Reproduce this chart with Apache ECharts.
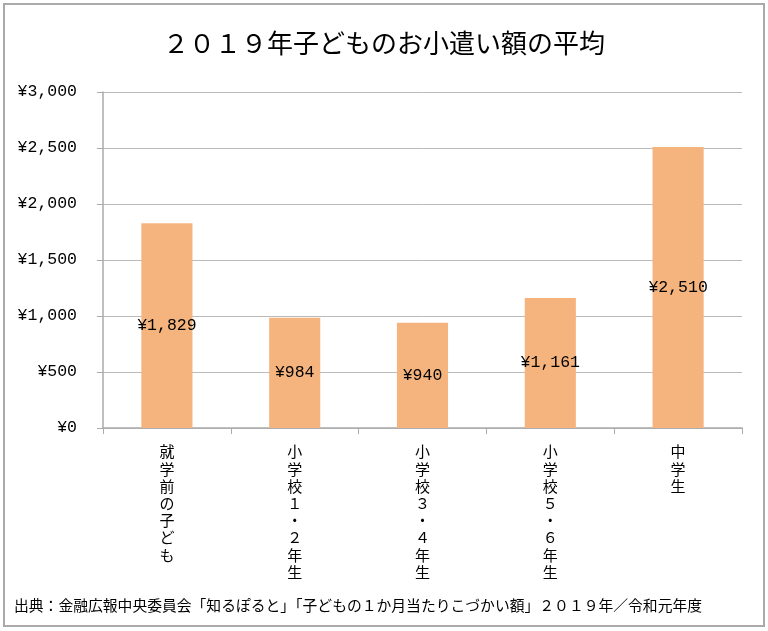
<!DOCTYPE html>
<html><head><meta charset="utf-8">
<script src="https://cdn.jsdelivr.net/npm/echarts@6/dist/echarts.min.js"></script>
<style>html,body{margin:0;padding:0;background:#fff}#c{width:768px;height:631px}</style>
</head><body><div id="c"></div>
<script>
const titleText = '２０１９年子どものお小遣い額の平均';
const categories = ['就学前の子ども', '小学校１・２年生', '小学校３・４年生', '小学校５・６年生', '中学生'];
const values = [1829, 984, 940, 1161, 2510];
const yTicks = [0, 500, 1000, 1500, 2000, 2500, 3000];
const sourceText = '出典：金融広報中央委員会「知るぽると」「子どもの１か月当たりこづかい額」２０１９年／令和元年度';

const FONT = '"Noto Sans CJK JP", sans-serif';
const MONO = '"Liberation Mono", "DejaVu Sans Mono", monospace';
const yen = v => '¥' + v.toLocaleString('en-US');
const chart = echarts.init(document.getElementById('c'));
chart.setOption({
  backgroundColor: '#fff',
  animation: false,
  title: {
    text: titleText, left: 'center', top: 25,
    textStyle: { fontFamily: FONT, fontSize: 26, fontWeight: 'normal', color: '#000' }
  },
  graphic: [
    { type: 'rect', shape: { x: 4, y: 4, width: 760, height: 622 },
      style: { fill: 'none', stroke: '#aaa', lineWidth: 2 } },
    { type: 'text', left: 14, top: 598,
      style: { text: sourceText, fontFamily: FONT, fontSize: 14.8, fill: '#000' } }
  ],
  grid: { left: 103, right: 26, top: 92, bottom: 203, containLabel: false },
  xAxis: {
    type: 'category', data: categories,
    axisLine: { lineStyle: { color: '#aaa', width: 1.5 } },
    axisTick: { show: true, length: 6, lineStyle: { color: '#aaa' } },
    axisLabel: {
      margin: 15, fontFamily: FONT, fontSize: 15, color: '#000', lineHeight: 17.2,
      verticalAlign: 'top',
      formatter: s => s.split('').join('\n')
    }
  },
  yAxis: {
    type: 'value', min: 0, max: 3000, interval: 500,
    axisLine: { show: true, lineStyle: { color: '#aaa', width: 1.5 } },
    axisTick: { show: true, length: 6, lineStyle: { color: '#aaa' } },
    splitLine: { lineStyle: { color: '#bbb', width: 1 } },
    axisLabel: {
      margin: 26, fontFamily: MONO, fontSize: 16.5, color: '#000',
      formatter: v => yTicks.includes(v) ? yen(v) : ''
    }
  },
  series: [{
    type: 'bar', data: values, barWidth: '40%',
    itemStyle: { color: '#f5b47d' },
    label: {
      show: true, position: 'inside', fontFamily: MONO, fontSize: 16.5, color: '#000',
      formatter: p => yen(p.value)
    }
  }]
});
</script></body></html>
